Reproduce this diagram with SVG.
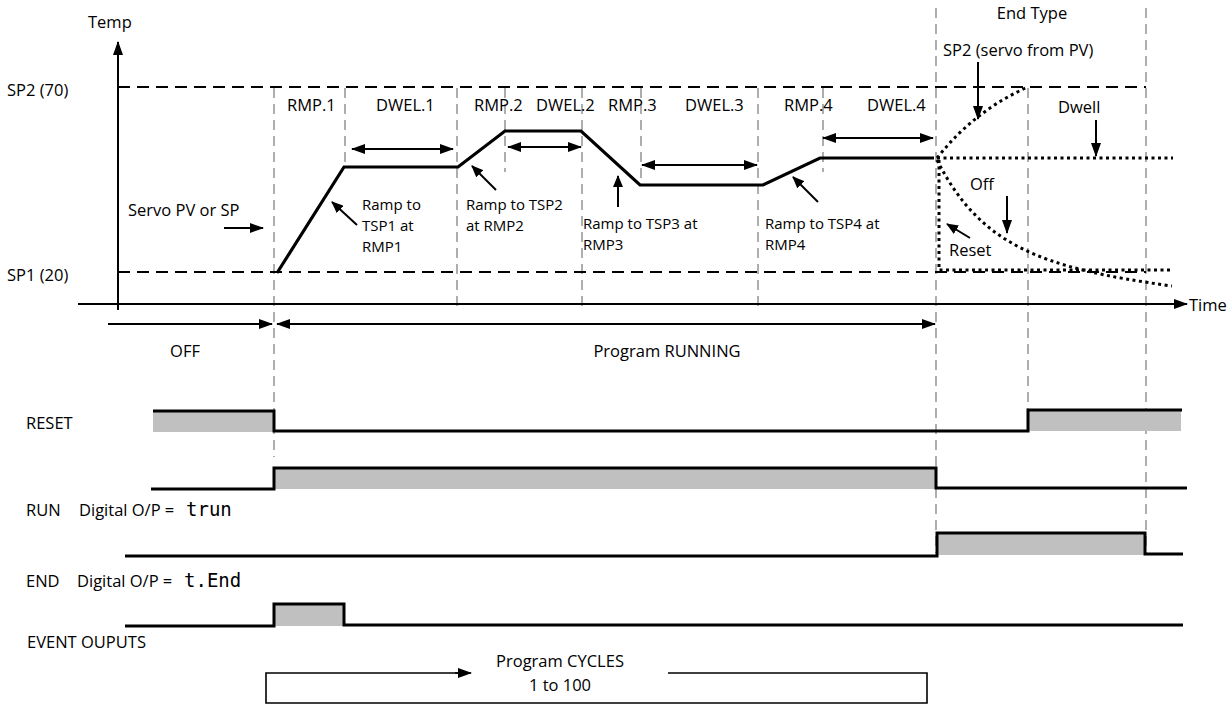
<svg xmlns="http://www.w3.org/2000/svg" width="1231" height="706" viewBox="0 0 1231 706">
<style>
text{font-family:"Open Sans","Liberation Sans",sans-serif;fill:#000}
.lbl{font-size:16.5px}
.ann{font-size:15px}
.seg{font-family:"DejaVu Sans Mono",monospace;font-size:19px}
.grid{stroke:#9a9a9a;stroke-width:1.6;stroke-dasharray:10 6;fill:none}
.sp{stroke:#000;stroke-width:2;stroke-dasharray:12 7;fill:none}
.dot{stroke:#000;stroke-width:3;stroke-dasharray:3 3.5;fill:none}
.thin{stroke:#000;stroke-width:2;fill:none}
.prof{stroke:#000;stroke-width:3.2;fill:none;stroke-linejoin:miter}
.sig{stroke:#000;stroke-width:3;fill:none}
.fill{fill:#c0c0c0;stroke:none}
.arr{stroke:#000;stroke-width:2;fill:none;marker-end:url(#ah)}
.dbl{stroke:#000;stroke-width:2;fill:none;marker-start:url(#ah);marker-end:url(#ah)}
</style>
<defs>
<marker id="ah" markerUnits="userSpaceOnUse" markerWidth="14" markerHeight="10" refX="13" refY="5" orient="auto-start-reverse">
<path d="M0,0 L14,5 L0,10 z" fill="#000"/>
</marker>
<marker id="ahs" markerUnits="userSpaceOnUse" markerWidth="12" markerHeight="10" refX="11" refY="5" orient="auto-start-reverse">
<path d="M0,0 L12,5 L0,10 z" fill="#000"/>
</marker>
</defs>

<g id="grid-lines">
<line class="grid" x1="274" y1="88" x2="274" y2="457"/>
<line class="grid" x1="345" y1="88" x2="345" y2="167"/>
<line class="grid" x1="457" y1="88" x2="457" y2="306"/>
<line class="grid" x1="505" y1="88" x2="505" y2="172"/>
<line class="grid" x1="582" y1="88" x2="582" y2="306"/>
<line class="grid" x1="641" y1="88" x2="641" y2="185"/>
<line class="grid" x1="758" y1="88" x2="758" y2="306"/>
<line class="grid" x1="823" y1="88" x2="823" y2="172"/>
<line class="grid" x1="936" y1="8" x2="936" y2="553"/>
<line class="grid" x1="1028" y1="88" x2="1028" y2="410"/>
<line class="grid" x1="1146" y1="8" x2="1146" y2="553"/>
</g>

<g id="axes">
<line class="sp" x1="118" y1="87" x2="1146" y2="87"/>
<line class="sp" x1="118" y1="272" x2="1146" y2="272"/>
<line class="thin" x1="118" y1="310" x2="118" y2="42" style="marker-end:url(#ah)"/>
<line class="thin" x1="78" y1="304" x2="1187" y2="304" style="marker-end:url(#ah)"/>
<text class="lbl" x="88" y="28">Temp</text>
<text class="lbl" x="1189" y="311">Time</text>
<text class="lbl" x="7" y="96">SP2 (70)</text>
<text class="lbl" x="7" y="281">SP1 (20)</text>
</g>

<g id="profile">
<path class="prof" d="M277,273 L344,167 L458,167 L505,131 L581,131 L640,185 L763,185 L820,158 L934,158"/>
</g>

<g id="segment-labels">
<text class="lbl" x="287" y="111">RMP.1</text>
<text class="lbl" x="376" y="111">DWEL.1</text>
<text class="lbl" x="474" y="111">RMP.2</text>
<text class="lbl" x="536" y="111">DWEL.2</text>
<text class="lbl" x="608" y="111">RMP.3</text>
<text class="lbl" x="685" y="111">DWEL.3</text>
<text class="lbl" x="784" y="111">RMP.4</text>
<text class="lbl" x="867" y="111">DWEL.4</text>
</g>

<g id="dwell-arrows">
<line class="dbl" x1="352" y1="149" x2="453" y2="149"/>
<line class="dbl" x1="508" y1="147" x2="581" y2="147"/>
<line class="dbl" x1="642" y1="165" x2="757" y2="165"/>
<line class="dbl" x1="823" y1="138" x2="933" y2="138"/>
</g>

<g id="annotations">
<text class="lbl" x="128" y="216">Servo PV or SP</text>
<line class="arr" x1="224" y1="228" x2="263" y2="228"/>
<text class="ann" x="362" y="210">Ramp to</text>
<text class="ann" x="362" y="231">TSP1 at</text>
<text class="ann" x="362" y="252">RMP1</text>
<line class="arr" x1="357" y1="225" x2="332" y2="202" style="marker-end:url(#ahs)"/>
<text class="ann" x="466" y="210">Ramp to TSP2</text>
<text class="ann" x="466" y="231">at RMP2</text>
<line class="arr" x1="496" y1="190" x2="472" y2="166" style="marker-end:url(#ahs)"/>
<text class="ann" x="583" y="229">Ramp to TSP3 at</text>
<text class="ann" x="583" y="250">RMP3</text>
<line class="arr" x1="618" y1="207" x2="618" y2="176" style="marker-end:url(#ahs)"/>
<text class="ann" x="765" y="229">Ramp to TSP4 at</text>
<text class="ann" x="765" y="250">RMP4</text>
<line class="arr" x1="818" y1="202" x2="793" y2="177" style="marker-end:url(#ahs)"/>
</g>

<g id="end-type">
<text class="lbl" x="1032" y="19" text-anchor="middle">End Type</text>
<text class="lbl" x="943" y="56">SP2 (servo from PV)</text>
<line class="arr" x1="978" y1="62" x2="978" y2="119"/>
<path class="dot" d="M937,158 Q975,110 1028,87"/>
<text class="lbl" x="1058" y="113">Dwell</text>
<line class="arr" x1="1096" y1="120" x2="1096" y2="156"/>
<path class="dot" d="M937,158 L1173,158"/>
<text class="lbl" x="970" y="190">Off</text>
<line class="arr" x1="1007" y1="196" x2="1007" y2="233"/>
<path class="dot" d="M937,160 C980,245 1040,268 1172,286"/>
<path class="dot" d="M939,160 L939,270 L1173,270"/>
<text class="lbl" x="949" y="256">Reset</text>
<line class="arr" x1="970" y1="238" x2="947" y2="224" style="marker-end:url(#ahs)"/>
</g>

<g id="phase-arrows">
<line class="arr" x1="108" y1="324" x2="272" y2="324"/>
<line class="dbl" x1="277" y1="324" x2="935" y2="324"/>
<text class="lbl" x="185" y="357" text-anchor="middle">OFF</text>
<text class="lbl" x="667" y="357" text-anchor="middle">Program RUNNING</text>
</g>

<g id="reset-signal">
<text class="lbl" x="26" y="429">RESET</text>
<rect class="fill" x="153" y="411" width="121" height="21"/>
<rect class="fill" x="1028" y="410" width="153" height="21"/>
<path class="sig" d="M153,411 L274,411 L274,431 L1028,431 L1028,410 L1182,410"/>
</g>

<g id="run-signal">
<rect class="fill" x="274" y="468" width="662" height="21"/>
<path class="sig" d="M151,489 L274,489 L274,468 L936,468 L936,488 L1187,488"/>
<text class="lbl" x="26" y="516">RUN</text>
<text class="lbl" x="79" y="516">Digital O/P =</text>
<text class="seg" x="186" y="516">trun</text>
</g>

<g id="end-signal">
<rect class="fill" x="937" y="533" width="208" height="22"/>
<path class="sig" d="M125,556 L937,556 L937,533 L1145,533 L1145,554 L1183,554"/>
<text class="lbl" x="26" y="587">END</text>
<text class="lbl" x="77" y="587">Digital O/P =</text>
<text class="seg" x="184" y="587">t.End</text>
</g>

<g id="event-signal">
<rect class="fill" x="274" y="604" width="70" height="22"/>
<path class="sig" d="M125,626 L274,626 L274,604 L344,604 L344,625 L1183,625"/>
<text class="lbl" x="27" y="648">EVENT OUPUTS</text>
</g>

<g id="cycles">
<path class="thin" style="stroke-width:1.6" d="M668,673 L927,673 L927,703 L266,703 L266,673 L460,673"/>
<line x1="455" y1="673" x2="471" y2="673" style="stroke:#000;stroke-width:1.6;marker-end:url(#ah)"/>
<text class="lbl" x="560" y="667" text-anchor="middle">Program CYCLES</text>
<text class="lbl" x="560" y="691" text-anchor="middle">1 to 100</text>
</g>
</svg>
